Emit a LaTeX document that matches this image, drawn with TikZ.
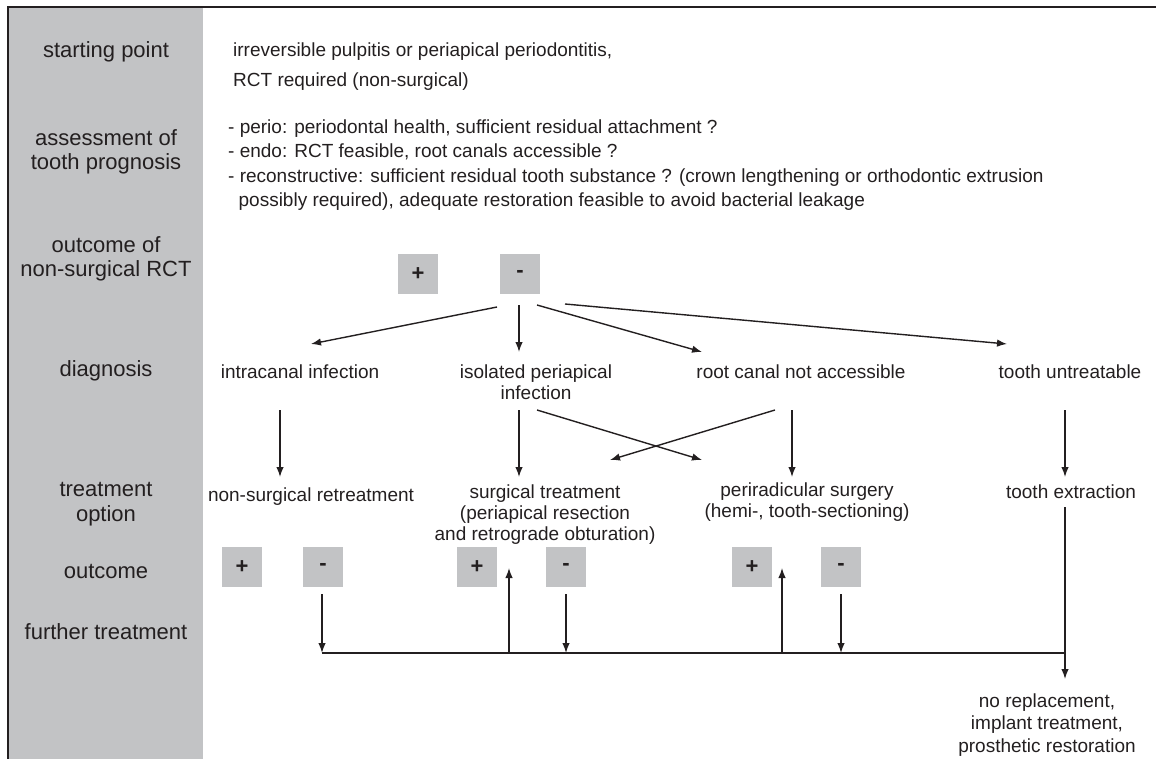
\documentclass[tikz,border=0pt]{standalone}
\usepackage{fontspec}
\setmainfont{Liberation Sans}
\usetikzlibrary{arrows.meta,calc}
\definecolor{panelgray}{HTML}{C2C3C5}
\definecolor{ink}{HTML}{231F20}

\begin{document}
\begin{tikzpicture}[x=1pt, y=-1pt,
    every node/.style={inner sep=0pt, text=ink},
    side/.style={align=center, font=\fontsize{22}{24.5}\selectfont},
    txt/.style={align=center, font=\fontsize{19}{21}\selectfont},
    res/.style={fill=panelgray, minimum width=40pt, minimum height=40pt,
                font=\fontsize{22}{24}\selectfont\bfseries},
    arr/.style={draw=ink, line width=1.4pt, -{Latex[length=10pt,width=7.5pt]}}]
  \useasboundingbox (0,0) rectangle (1156,759);
  % frame and row labels
  \fill[panelgray] (9,8) rectangle (203,759);
  \draw[ink, line width=2.5pt] (8,759) -- (8,7) -- (1156,7);
  \node[side] (lstart) at (106,52)  {starting point};
  \node[side] (lprog)  at (106,152) {assessment of\\tooth prognosis};
  \node[side] (lrct)   at (106,259) {outcome of\\non-surgical RCT};
  \node[side] (ldiag)  at (106,371) {diagnosis};
  \node[side] (lopt)   at (106,504) {treatment\\option};
  \node[side] (lout)   at (106,571) {outcome};
  \node[side] (lfur)   at (106,632) {further treatment};
  % starting point and prognosis
  \node[txt, align=left, anchor=west, font=\fontsize{19}{30}\selectfont] (start) at (233,67)
    {irreversible pulpitis or periapical periodontitis,\\RCT required (non-surgical)};
  \node[txt, align=left, anchor=west, font=\fontsize{19}{24.5}\selectfont] (prog) at (228,165)
    {- perio: periodontal health, sufficient residual attachment ?\\
     - endo: RCT feasible, root canals accessible ?\\
     - reconstructive: sufficient residual tooth substance ? (crown lengthening or orthodontic extrusion\\
     \hspace{0.55em}possibly required), adequate restoration feasible to avoid bacterial leakage};
  % outcome of RCT
  \node[res] (o1p) at (418,274) {+};
  \node[res] (o1m) at (520,274) {-};
  % diagnosis
  \node[txt] (di1) at (300,372)  {intracanal infection};
  \node[txt] (di2) at (536,382)  {isolated periapical\\infection};
  \node[txt] (di3) at (801,372)  {root canal not accessible};
  \node[txt] (di4) at (1070,372) {tooth untreatable};
  % treatment options
  \node[txt] (tr1) at (311,497)  {non-surgical retreatment};
  \node[txt] (tr2) at (545,515)  {surgical treatment\\(periapical resection\\and retrograde obturation)};
  \node[txt] (tr3) at (807,502)  {periradicular surgery\\(hemi-, tooth-sectioning)};
  \node[txt] (tr4) at (1071,492) {tooth extraction};
  % outcomes
  \node[res] (o2p) at (242,567) {+};
  \node[res] (o2m) at (323,567) {-};
  \node[res] (o3p) at (477,567) {+};
  \node[res] (o3m) at (566,567) {-};
  \node[res] (o4p) at (752,567) {+};
  \node[res] (o4m) at (841,567) {-};
  \node[txt, font=\fontsize{19}{22.5}\selectfont] (nr) at (1047,725)
    {no replacement,\\implant treatment,\\prosthetic restoration};
  \coordinate (busL) at (322,653);
  \coordinate (busR) at (1065,653);

  \draw[arr] ($(o1m)+(-23,33)$) -- ($(di1)+(11,-28)$);
  \draw[arr] ($(o1m)+(-1,31)$)  -- ($(di2)+(-17,-30)$);
  \draw[arr] ($(o1m)+(17,31)$)  -- ($(di3)+(-99,-20)$);
  \draw[arr] ($(o1m)+(45,30)$)  -- ($(di4)+(-63,-28)$);
  \draw[arr] ($(di1)+(-20,38)$) -- ($(tr1)+(-31,-20)$);
  \draw[arr] ($(di2)+(-17,28)$) -- ($(tr2)+(-26,-38)$);
  \draw[arr] ($(di2)+(1,28)$)   -- ($(tr3)+(-105,-42)$);
  \draw[arr] ($(di3)+(-26,38)$) -- ($(tr2)+(65,-55)$);
  \draw[arr] ($(di3)+(-9,38)$)  -- ($(tr3)+(-15,-25)$);
  \draw[arr] ($(di4)+(-5,38)$)  -- ($(tr4)+(-6,-15)$);
  \draw[arr] ($(tr4)+(-6,15)$)  -- ($(nr)+(18,-46)$);
  \draw[draw=ink, line width=1.4pt] (busL) -- (busR);
  \draw[arr] ($(o2m)+(-1,27)$) -- ($(o2m |- busL)+(-1,0)$);
  \draw[arr] ($(o3p |- busL)+(32,0)$) -- ($(o3p)+(32,1)$);
  \draw[arr] ($(o3m)+(0,27)$)  -- (o3m |- busL);
  \draw[arr] ($(o4p |- busL)+(30,0)$) -- ($(o4p)+(30,1)$);
  \draw[arr] ($(o4m)+(0,27)$)  -- (o4m |- busL);
\end{tikzpicture}
\end{document}
